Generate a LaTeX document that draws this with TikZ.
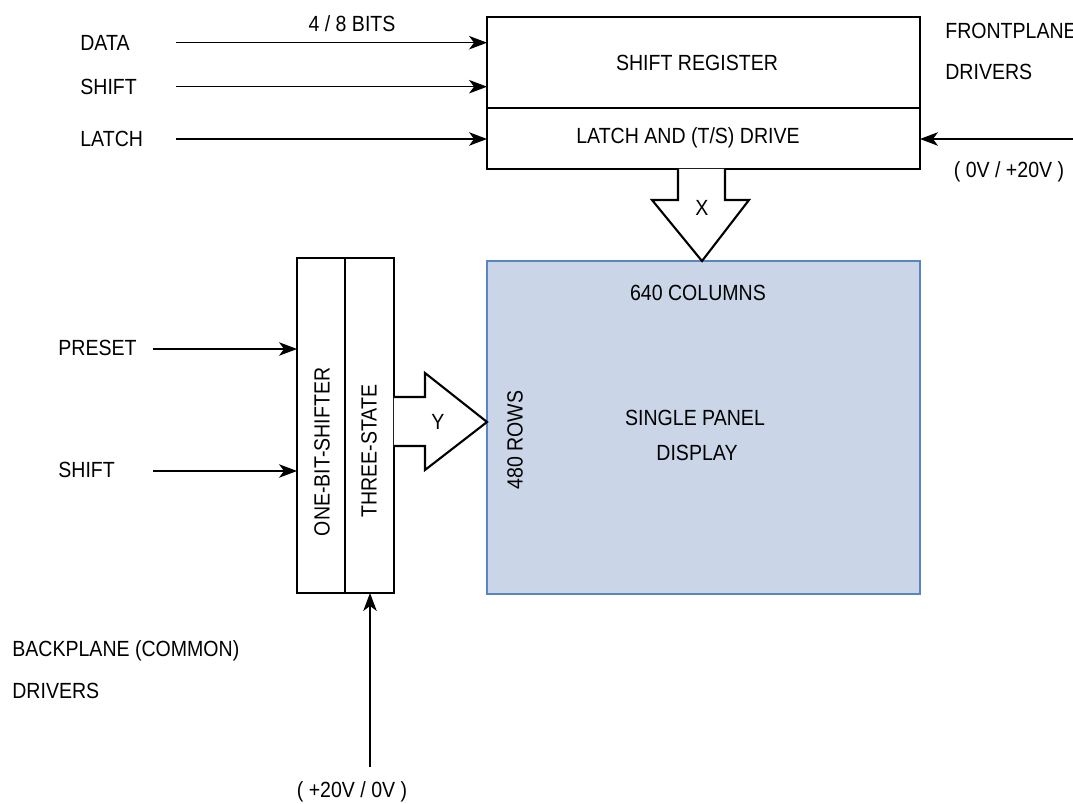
\documentclass[tikz,border=0pt]{standalone}
\usepackage{fontspec}
\setmainfont[FakeStretch=0.89]{Liberation Sans}
\usetikzlibrary{arrows.meta,positioning,calc}
\definecolor{PanelFill}{HTML}{CAD6E8}
\definecolor{PanelEdge}{HTML}{5B85C1}

\begin{document}
\begin{tikzpicture}[
  x=0.02cm, y=-0.02cm,
  lbl/.style={inner sep=0pt, font=\fontsize{12.5}{14}\selectfont},
  blk/.style={draw=black, line width=1.2pt, inner sep=0pt, outer sep=0pt},
  panel/.style={draw=PanelEdge, fill=PanelFill, line width=1.2pt, inner sep=0pt, outer sep=0pt, minimum width=8.66cm, minimum height=6.66cm},
  sig/.style={-{Stealth[length=0.36cm,width=0.27cm,inset=0.1cm]}, line width=0.65pt},
  bus/.style={draw=black, fill=white, line width=1.2pt, line join=miter}
]
\useasboundingbox (0,0) rectangle (1073,804);
\node[blk, minimum width=8.66cm, minimum height=1.82cm] (sreg) at (703.5,62.5) {};
\node[blk, below=0pt of sreg, minimum width=8.66cm, minimum height=1.22cm] (latch) {};
\node[panel] (disp) at (703.5,427.5) {};
\node[blk, minimum width=0.96cm, minimum height=6.7cm] (shifter) at (321,425.5) {};
\node[blk, right=0pt of shifter, minimum width=0.98cm, minimum height=6.7cm] (tri) {};
\node[lbl] (sregTxt) at (697,62.5) {SHIFT REGISTER};
\node[lbl] (latchTxt) at (688,138) {LATCH AND (T/S) DRIVE};
\node[lbl, rotate=90] (shifterTxt) at (322,452) {ONE-BIT-SHIFTER};
\node[lbl, rotate=90] (triTxt) at (369,451) {THREE-STATE};
\node[lbl] (colTxt) at (698,293) {640 COLUMNS};
\node[lbl] (panTxt) at (695,418) {SINGLE PANEL};
\node[lbl] (panTxtB) at (697,453) {DISPLAY};
\node[lbl, rotate=90] (rowTxt) at (515,440) {480 ROWS};
\draw[bus] ($(latch.south)+(-25.5,0)$) -- ++(0,31) -- ++(-26,0) -- ($(disp.north)+(-1.5,0)$)
  -- ($(latch.south)+(45.5,31)$) -- ++(-24,0) -- ++(0,-31);
\node[lbl] (xTxt) at (702,208) {X};
\draw[bus] ($(tri.east)+(0,-28.5)$) -- ++(31,0) -- ++(0,-24) -- ($(disp.west)+(0,-5.5)$)
  -- ($(tri.east)+(31,44.5)$) -- ++(0,-24) -- ++(-31,0);
\node[lbl] (yTxt) at (438,422) {Y};
\node[lbl, anchor=west] (dataTxt) at (80,42.7) {DATA};
\node[lbl, anchor=west] (shiftTxt) at (80,86.7) {SHIFT};
\node[lbl, anchor=west] (latchIn) at (80,139) {LATCH};
\node[lbl] (bitsTxt) at (352,24) {4 / 8 BITS};
\node[lbl, anchor=west] (fpTxt) at (945,31) {FRONTPLANE};
\node[lbl, anchor=west] (fpTxtB) at (945,72) {DRIVERS};
\node[lbl] (fpVolt) at (1009,172) {( 0V / +20V )};
\node[lbl, anchor=west] (presetTxt) at (58,348) {PRESET};
\node[lbl, anchor=west] (bshiftTxt) at (58,470) {SHIFT};
\node[lbl, anchor=west] (bpTxt) at (12,651) {BACKPLANE (COMMON)};
\node[lbl, anchor=west] (bpTxtB) at (12,691) {DRIVERS};
\node[lbl] (bpVolt) at (352,792) {( +20V / 0V )};
\coordinate (dIn) at (176,42.7);
\coordinate (sIn) at (176,86.7);
\coordinate (lIn) at (176,139);
\coordinate (fIn) at (1073,139);
\coordinate (pIn) at (153,349);
\coordinate (bsIn) at (153,471);
\coordinate (vIn) at (370,767);
\draw[sig] (dIn) -- (dIn -| sreg.west);
\draw[sig] (sIn) -- (sIn -| sreg.west);
\draw[sig] (lIn) -- (lIn -| latch.west);
\draw[sig] (fIn) -- (fIn -| latch.east);
\draw[sig] (pIn) -- (pIn -| shifter.west);
\draw[sig] (bsIn) -- (bsIn -| shifter.west);
\draw[sig] (vIn) -- (vIn |- tri.south);
\end{tikzpicture}
\end{document}
